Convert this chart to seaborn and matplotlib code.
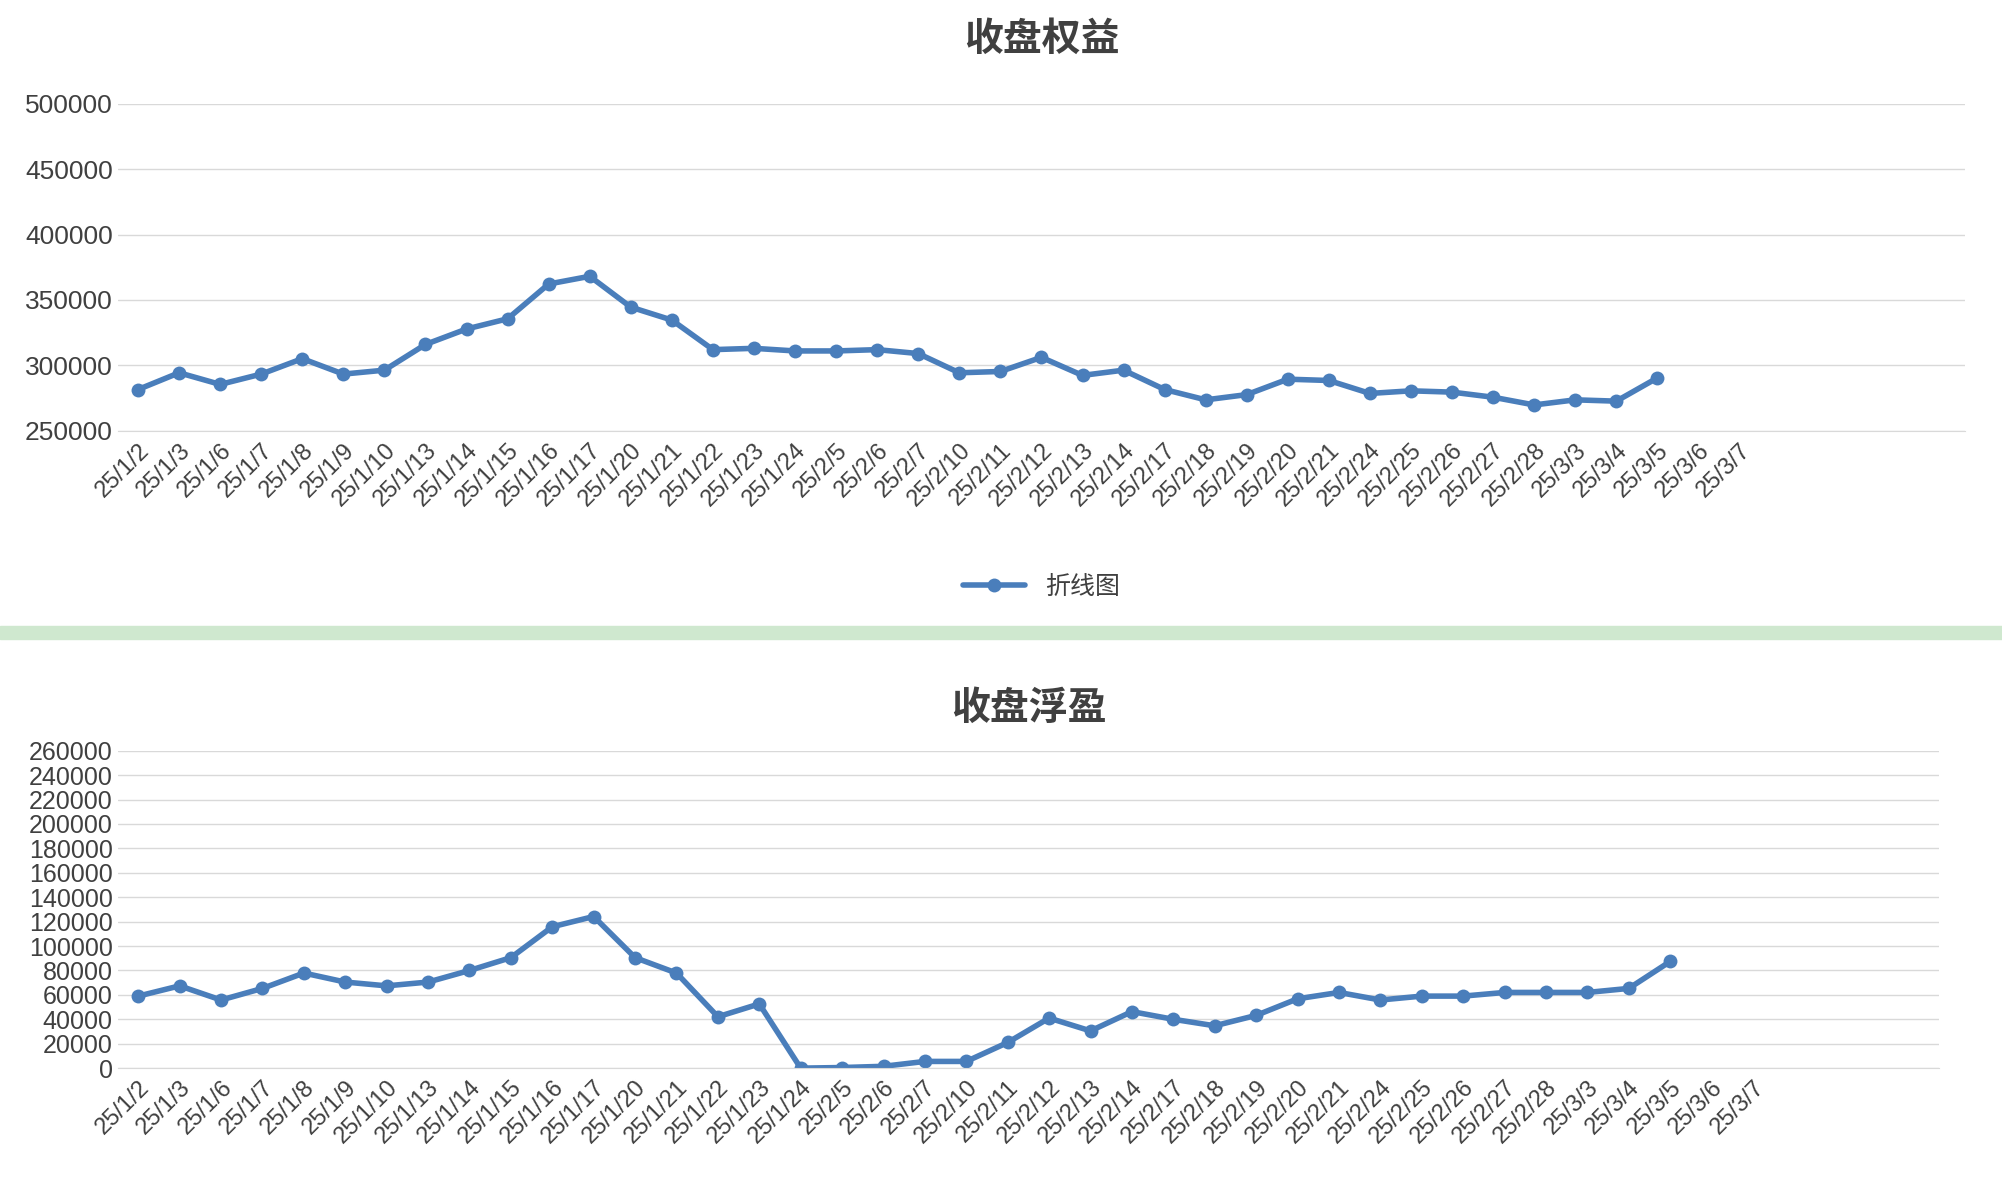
import matplotlib
matplotlib.use("Agg")
import matplotlib.pyplot as plt
import matplotlib.patches as mpatches
import numpy as np
import pandas as pd
import seaborn as sns

sns.set_style("white")
plt.rcParams['font.family'] = ['Liberation Sans', 'Noto Sans CJK SC', 'DejaVu Sans']

dates = ["25/1/2", "25/1/3", "25/1/6", "25/1/7", "25/1/8", "25/1/9", "25/1/10", "25/1/13",
         "25/1/14", "25/1/15", "25/1/16", "25/1/17", "25/1/20", "25/1/21", "25/1/22", "25/1/23",
         "25/1/24", "25/2/5", "25/2/6", "25/2/7", "25/2/10", "25/2/11", "25/2/12", "25/2/13",
         "25/2/14", "25/2/17", "25/2/18", "25/2/19", "25/2/20", "25/2/21", "25/2/24", "25/2/25",
         "25/2/26", "25/2/27", "25/2/28", "25/3/3", "25/3/4", "25/3/5", "25/3/6", "25/3/7"]

equity = [281500, 294300, 285400, 293300, 305100, 293300, 296300, 316000, 327800, 335600,
          362200, 368100, 344500, 334600, 312000, 313000, 311000, 311000, 312000, 309000,
          294300, 295300, 306100, 292300, 296300, 281500, 273600, 277600, 289400, 288400,
          278500, 280500, 279500, 275600, 269700, 273600, 272600, 290400]

float_pnl = [59000, 67400, 55800, 65300, 77900, 70500, 67400, 70500, 80000, 90500,
             115800, 124200, 90500, 77900, 42100, 52600, 0, 500, 1500, 5500,
             5500, 21000, 41000, 30500, 46300, 40000, 34700, 43200, 56800, 62000,
             55800, 59000, 59000, 62000, 62000, 62000, 65300, 87400]

line_color = "#4a7ebb"
grid_color = "#d9d9d9"
text_color = "#404040"
title_font = ['Noto Sans CJK SC', 'DejaVu Sans']

fig = plt.figure(figsize=(20.02, 11.8), dpi=100)
fig.patches.append(mpatches.Rectangle((0, 0.4586), 1, 0.011, transform=fig.transFigure,
                                      color="#cfe8cf", zorder=0))


def draw_panel(ax, values, n_cat, ylim, step, title, legend, ysize, pad):
    df = pd.DataFrame({"x": np.arange(len(values)), "v": values})
    sns.lineplot(data=df, x="x", y="v", ax=ax, color=line_color, linewidth=4,
                 marker="o", markersize=10, markeredgewidth=0, label="折线图" if legend else None)
    ax.set_xlim(-0.5, n_cat - 0.5)
    ax.set_ylim(*ylim)
    ax.set_yticks(np.arange(ylim[0], ylim[1] + 1, step))
    ax.set_xticks(np.arange(len(dates)))
    ax.set_xticklabels(dates, rotation=45, ha="right", rotation_mode="anchor")
    ax.set_xticks(np.arange(-0.5, n_cat, 1), minor=True)
    ax.tick_params(axis="x", which="major", length=0, labelsize=17, colors=text_color, pad=6)
    ax.tick_params(axis="x", which="minor", length=7, color=grid_color)
    ax.tick_params(axis="y", length=0, labelsize=ysize, colors=text_color)
    ax.grid(axis="y", color=grid_color, linewidth=1)
    for s in ["top", "right", "left"]:
        ax.spines[s].set_visible(False)
    ax.spines["bottom"].set_color(grid_color)
    ax.set_xlabel("")
    ax.set_ylabel("")
    ax.set_title(title, fontsize=28, fontweight="bold", color=text_color, pad=pad,
                 family=title_font)


ax1 = fig.add_axes([0.0587, 0.635, 0.923, 0.277])
draw_panel(ax1, equity, 45, (250000, 500000), 50000, "收盘权益", True, 19, 38)
ax1.legend(loc="upper center", bbox_to_anchor=(0.5, -0.37), frameon=False,
           prop={"family": title_font, "size": 18}, handlelength=2.5, labelcolor=text_color)

ax2 = fig.add_axes([0.0587, 0.0948, 0.91, 0.269])
draw_panel(ax2, float_pnl, 44, (0, 260000), 20000, "收盘浮盈", False, 18, 22)

fig.savefig("out.png", dpi=100)
